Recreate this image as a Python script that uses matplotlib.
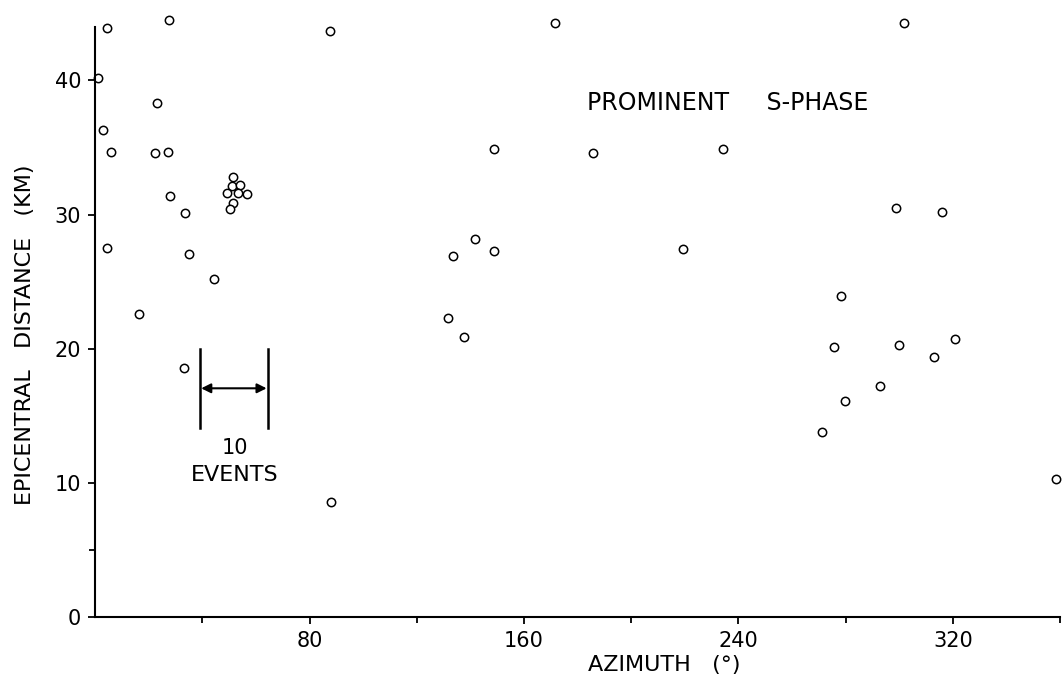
import numpy as np
import matplotlib
matplotlib.use("Agg")
import matplotlib.pyplot as plt

# azimuth (deg) and epicentral distance (km)
azimuth = [4.5, 27.6, 1.2, 23.1, 2.9, 6.0, 22.4, 27.1, 27.9, 33.5,
           51.4, 51.1, 54.0, 49.2, 53.3, 56.7, 51.4, 50.3,
           4.5, 35.1, 44.4, 16.4, 33.2, 88.0, 87.6,
           171.4, 148.7, 185.6, 234.1, 141.6, 133.4, 148.7, 219.5, 131.6, 137.5,
           301.9, 298.9, 316.1, 278.4, 275.8, 300.0, 320.9, 313.1, 293.0,
           279.9, 271.3, 358.6]
distance = [43.9, 44.5, 40.2, 38.3, 36.3, 34.7, 34.6, 34.7, 31.4, 30.1,
            32.8, 32.1, 32.2, 31.6, 31.6, 31.5, 30.9, 30.4,
            27.5, 27.1, 25.2, 22.6, 18.6, 8.6, 43.7,
            44.3, 34.9, 34.6, 34.9, 28.2, 26.9, 27.3, 27.4, 22.3, 20.9,
            44.3, 30.5, 30.2, 23.9, 20.1, 20.3, 20.7, 19.4, 17.2,
            16.1, 13.8, 10.3]

x_ticks = [80, 160, 240, 320]
y_ticks = [0, 10, 20, 30, 40]

# "10 events" scale bar
bar_left, bar_right = 39.1, 64.5
bar_low, bar_high = 14.1, 20.0
bar_arrow_y = 17.05

fig = plt.figure(figsize=(10.62, 6.88), dpi=100)
ax = fig.add_axes([0.0895, 0.1032, 0.9087, 0.8968])

ax.plot(azimuth, distance, 'o', mfc='white', mec='black', ms=6, mew=1.1,
        linestyle='none', clip_on=False)

ax.set_xlim(0, 360)
ax.set_ylim(0, 46)

ax.spines['top'].set_visible(False)
ax.spines['right'].set_visible(False)
ax.spines['left'].set_bounds(0, 44)
ax.spines['left'].set_linewidth(1.5)
ax.spines['bottom'].set_linewidth(1.5)

ax.set_xticks(x_ticks)
ax.set_xticks(np.arange(40, 361, 40), minor=True)
ax.set_yticks(y_ticks)
ax.set_yticks([5], minor=True)
ax.tick_params(axis='both', which='major', direction='out', length=5, width=1.3,
               labelsize=15, pad=5)
ax.tick_params(axis='both', which='minor', direction='out', length=4, width=1.3)

ax.set_xlabel('AZIMUTH   (°)', fontsize=16)
ax.xaxis.set_label_coords(0.59, -0.062)
ax.set_ylabel('EPICENTRAL   DISTANCE   (KM)', fontsize=16)
ax.yaxis.set_label_coords(-0.062, 0.457)

ax.text(236, 38.3, 'PROMINENT     S-PHASE', fontsize=17, ha='center', va='center')

for xb in (bar_left, bar_right):
    ax.plot([xb, xb], [bar_low, bar_high], color='black', lw=1.8)
ax.annotate('', xy=(bar_right - 0.5, bar_arrow_y), xytext=(bar_left + 0.5, bar_arrow_y),
            arrowprops=dict(arrowstyle='<|-|>', color='black', lw=1.5,
                            mutation_scale=14, shrinkA=0, shrinkB=0))
ax.text(52, 12.6, '10', fontsize=15, ha='center', va='center')
ax.text(52, 10.6, 'EVENTS', fontsize=16, ha='center', va='center')

fig.savefig('out.png', dpi=100)
